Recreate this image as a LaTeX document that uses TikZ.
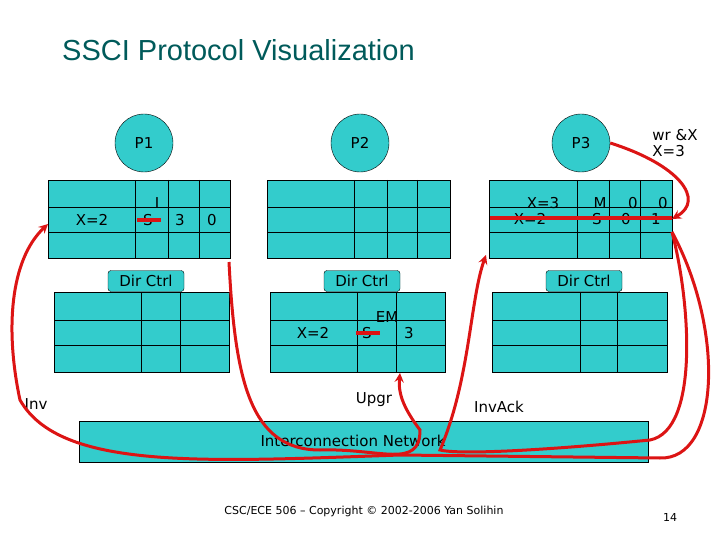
\documentclass[tikz,border=0pt]{standalone}
\usepackage{fontspec}
\setmainfont{DejaVu Sans}
\newfontfamily\titlefont{Liberation Sans}
\usepackage{tikz}
\usetikzlibrary{arrows,shapes,positioning}
\definecolor{ssteal}{RGB}{51,204,204}
\definecolor{sstitle}{RGB}{0,90,90}
\definecolor{ssred}{RGB}{220,20,20}
\tikzstyle{arrow} = [line width=3pt,->,>=stealth,color=ssred]
\tikzstyle{cell} = [draw, fill=ssteal, line width=0.8pt]
\tikzstyle{txt} = [font=\fontsize{15}{16}\selectfont, inner sep=0pt]

\begin{document}
\begin{tikzpicture}[x=1pt, y=-1pt]
\useasboundingbox (0,0) rectangle (720,540);
% Title
\node[font=\titlefont\fontsize{29}{29}\selectfont, color=sstitle, anchor=west, inner sep=0pt] (title) at (62,50) {SSCI Protocol Visualization};

% Processors
\node[draw, circle, fill=ssteal, minimum size=58pt, txt] (p1) at (144,143) {P1};
\node[draw, circle, fill=ssteal, minimum size=58pt, txt] (p2) at (360,143) {P2};
\node[draw, circle, fill=ssteal, minimum size=58pt, txt] (p3) at (581,143) {P3};

% Caches
\foreach \l/\a/\b/\c/\r in {48/135/168/199/230, 267/354/387/417/450, 489/577/609/640/672} {
  \draw[cell] (\l,180) rectangle (\r,258);
  \draw (\l,207) -- (\r,207) (\l,232) -- (\r,232);
  \draw (\a,180) -- (\a,258) (\b,180) -- (\b,258) (\c,180) -- (\c,258);
}
\coordinate (c1l) at (48,224);
\coordinate (c1br) at (229,262);
\coordinate (c3r) at (672,219);
\coordinate (c3rb) at (672,232);
\coordinate (c3bl) at (486,255);

% Memories
\foreach \l/\a/\b/\r in {54/141/180/229, 270/357/396/445, 492/580/617/667} {
  \draw[cell] (\l,292) rectangle (\r,372);
  \draw (\l,320) -- (\r,320) (\l,345) -- (\r,345);
  \draw (\a,292) -- (\a,372) (\b,292) -- (\b,372);
}
\coordinate (m2b) at (400,373);

% Directory controllers
\node[draw, fill=ssteal, rounded corners=3pt, minimum width=76pt, minimum height=21pt, txt] (dir1) at (146,281) {Dir Ctrl};
\node[draw, fill=ssteal, rounded corners=3pt, minimum width=76pt, minimum height=21pt, txt] (dir2) at (362,281) {Dir Ctrl};
\node[draw, fill=ssteal, rounded corners=3pt, minimum width=76pt, minimum height=21pt, txt] (dir3) at (584,281) {Dir Ctrl};

% Network
\node[draw, fill=ssteal, minimum width=569pt, minimum height=41pt, inner sep=0pt] (net) at (363.5,441.5) {};
\node[txt] (netlbl) at (353,441) {Interconnection Network};

% Cache contents
\node[txt] (c1x) at (92,220) {X=2};
\node[txt] (c1s) at (148,220) {S};
\node[txt] (c1i) at (157,203) {I};
\node[txt] (c1d) at (180,220) {3};
\node[txt] (c1v) at (212,220) {0};
\node[txt] (c3x) at (543,203) {X=3};
\node[txt] (c3xo) at (530,219) {X=2};
\node[txt] (c3m) at (600,203) {M};
\node[txt] (c3a) at (633,203) {0};
\node[txt] (c3b) at (663,203) {0};
\node[txt] (c3s) at (597,219) {S};
\node[txt] (c3c) at (626,219) {0};
\node[txt] (c3d) at (656,219) {1};
\node[txt] (m2x) at (313,333) {X=2};
\node[txt] (m2s) at (367,333) {S};
\node[txt] (m2e) at (387,317) {EM};
\node[txt] (m2d) at (409,333) {3};
\draw[ssred, line width=4pt] (c1s.west) ++(-6,0) -- ++(24,0);
\draw[ssred, line width=4pt] (m2s.west) ++(-6,0) -- ++(24,0);
\draw[ssred, line width=4pt] (490,218) -- (672,218);

% Labels
\node[txt, align=left] (wr) at (675,143) {wr \&X\\X=3};
\node[txt] (inv) at (36,404) {Inv};
\node[txt] (upgr) at (374,400) {Upgr};
\node[txt] (invack) at (499,407) {InvAck};
\node[font=\fontsize{11}{11}\selectfont, inner sep=0pt] (foot) at (364,511) {CSC/ECE 506 – Copyright © 2002-2006 Yan Solihin};
\node[font=\fontsize{11}{11}\selectfont, inner sep=0pt] (page) at (670,517) {14};

% Arrows
\draw[arrow] (p3.east) .. controls (680,165) and (705,200) .. (c3r);
\draw[arrow] (c3rb) .. controls (725,330) and (720,460) .. (660,458)
  -- (400,455) .. controls (200,462) and (60,470) .. (20,400)
  .. controls (5,330) and (10,260) .. (c1l);
\draw[arrow] (c1br) .. controls (235,380) and (250,450) .. (320,450)
  .. controls (380,448) and (420,470) .. (420,430) .. controls (405,410) and (398,395) .. (m2b);
\draw[arrow] (c3rb) .. controls (690,300) and (700,430) .. (650,440)
  .. controls (550,450) and (460,455) .. (440,450) .. controls (470,380) and (470,300) .. (c3bl);
\end{tikzpicture}
\end{document}
